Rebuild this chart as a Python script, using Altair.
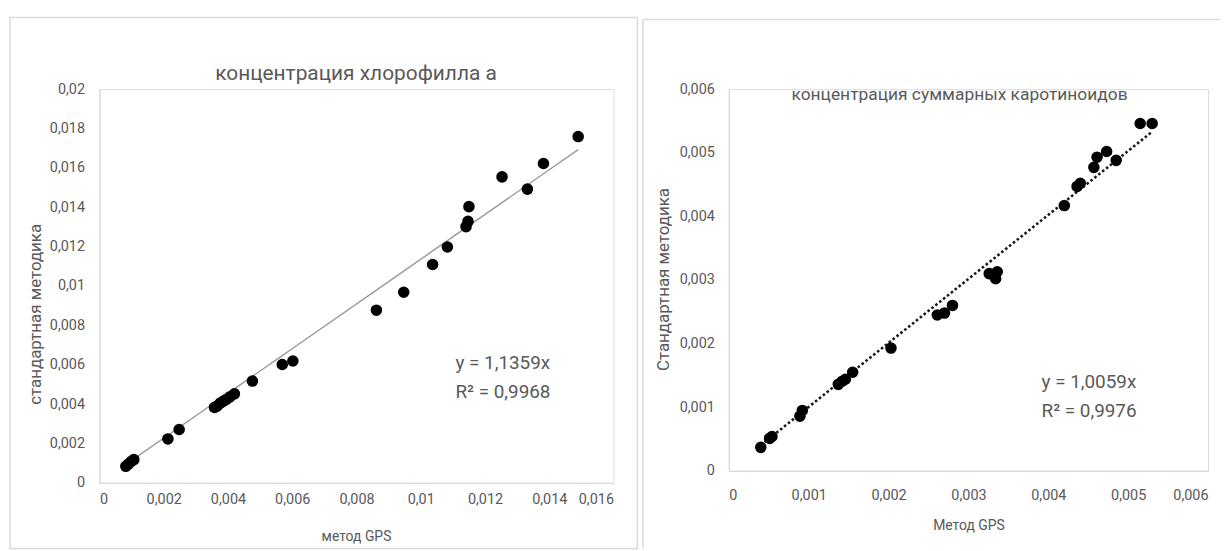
import altair as alt
import pandas as pd

FONT = "Roboto"
TXT = "#595959"
AXC = "#d9d9d9"

# ---------- data: chlorophyll a ----------
chl_gps = [0.00082, 0.00090, 0.00100, 0.00107, 0.00213, 0.00248, 0.00358, 0.00366,
           0.00376, 0.00386, 0.00396, 0.00406, 0.00420, 0.00476, 0.00569, 0.00602,
           0.00862, 0.00947, 0.01037, 0.01083, 0.01141, 0.01147, 0.01150, 0.01253,
           0.01332, 0.01382, 0.01490]
chl_std = [0.00084, 0.00095, 0.00110, 0.00118, 0.00223, 0.00271, 0.00383, 0.00390,
           0.00405, 0.00415, 0.00425, 0.00437, 0.00452, 0.00517, 0.00601, 0.00619,
           0.00877, 0.00968, 0.01109, 0.01198, 0.01301, 0.01328, 0.01403, 0.01554,
           0.01492, 0.01622, 0.01759]
chl_slope = 1.1359
chl_r2 = "0,9968"
chl_xticks = [0, 0.002, 0.004, 0.006, 0.008, 0.01, 0.012, 0.014, 0.016]
chl_yticks = [0, 0.002, 0.004, 0.006, 0.008, 0.01, 0.012, 0.014, 0.016, 0.018, 0.02]

# ---------- data: total carotenoids ----------
car_gps = [0.00040, 0.00051, 0.00054, 0.00089, 0.00092, 0.00137, 0.00142, 0.00146,
           0.00155, 0.00203, 0.00261, 0.00270, 0.00280, 0.00326, 0.00334, 0.00336,
           0.00420, 0.00436, 0.00440, 0.00457, 0.00461, 0.00473, 0.00485, 0.00515,
           0.00530]
car_std = [0.00037, 0.00051, 0.00054, 0.00086, 0.00095, 0.00136, 0.00141, 0.00144,
           0.00155, 0.00193, 0.00245, 0.00248, 0.00260, 0.00310, 0.00302, 0.00313,
           0.00417, 0.00447, 0.00452, 0.00477, 0.00493, 0.00502, 0.00488, 0.00546,
           0.00546]
car_slope = 1.0059
car_r2 = "0,9976"
car_xticks = [0, 0.001, 0.002, 0.003, 0.004, 0.005, 0.006]
car_yticks = [0, 0.001, 0.002, 0.003, 0.004, 0.005, 0.006]

LABEL_EXPR = "replace(format(datum.value, '.3~f'), '.', ',')"


def one(values):
    return pd.DataFrame(values)


def panel(gps, std, slope, r2, xticks, yticks, w, h, title, title_size, title_xy,
          xtitle, xtitle_xy, ytitle, ytitle_xy, xlab_pad, ylab_pad, eq_xy,
          dotted, frame):
    df = pd.DataFrame({"gps": gps, "std": std})
    xs = alt.Scale(domain=[xticks[0], xticks[-1]], nice=False, zero=True)
    ys = alt.Scale(domain=[yticks[0], yticks[-1]], nice=False, zero=True)
    xax = alt.Axis(values=xticks, labelExpr=LABEL_EXPR, grid=False, ticks=False,
                   domainColor=AXC, domainWidth=1.2, labelColor=TXT, labelFont=FONT,
                   labelFontSize=14.5, labelPadding=xlab_pad, title=xtitle,
                   titleFont=FONT, titleFontSize=14, titleFontWeight="normal",
                   titleColor=TXT, titleX=xtitle_xy[0], titleY=xtitle_xy[1],
                   titleAlign="center", titleBaseline="middle", labelOverlap=False)
    yax = alt.Axis(values=yticks, labelExpr=LABEL_EXPR, grid=False, ticks=False,
                   domainColor=AXC, domainWidth=1.2, labelColor=TXT, labelFont=FONT,
                   labelFontSize=14.5, labelPadding=ylab_pad, title=ytitle,
                   titleFont=FONT, titleFontSize=17, titleFontWeight="normal",
                   titleColor=TXT, titleX=ytitle_xy[0], titleY=ytitle_xy[1],
                   titleAlign="center", titleBaseline="middle", titleAngle=270,
                   labelOverlap=False)

    base = alt.Chart(df)
    line_kw = dict(color="#9a9a9a", strokeWidth=1.4)
    if dotted:
        line_kw = dict(color="#1a1a1a", strokeWidth=2.6, strokeDash=[2.6, 2.4])
    trend = base.transform_calculate(fit=f"{slope} * datum.gps").mark_line(**line_kw).encode(
        x=alt.X("gps:Q", scale=xs, axis=xax),
        y=alt.Y("fit:Q", scale=ys, axis=yax),
        order="gps:Q",
    )
    pts = base.mark_circle(size=135, color="black", opacity=1).encode(
        x=alt.X("gps:Q", scale=xs, axis=xax),
        y=alt.Y("std:Q", scale=ys, axis=yax),
    )
    ttl = alt.Chart(one({"t": [title]})).mark_text(
        font=FONT, fontSize=title_size, color=TXT, align="center", baseline="middle"
    ).encode(text="t:N", x=alt.value(title_xy[0]), y=alt.value(title_xy[1]))
    eq = alt.Chart(one({"t": [f"y = {str(slope).replace('.', ',')}x", f"R² = {r2}"],
                        "k": [0, 1]})).mark_text(
        font=FONT, fontSize=19, color=TXT, align="left", baseline="middle"
    ).encode(text="t:N", x=alt.value(eq_xy[0]),
             y=alt.Y("k:Q", scale=alt.Scale(domain=[0, 1], range=[eq_xy[1], eq_xy[1] + 29]),
                     axis=None))

    layers = [trend, pts, ttl]
    fdf = one({"a": [1]})
    if frame == "rect":
        fr = alt.Chart(fdf).mark_rect(fill=None, stroke=AXC, strokeWidth=1.5).encode(
            x=alt.value(-90), x2=alt.value(541), y=alt.value(-72), y2=alt.value(462))
        layers.append(fr)
    else:
        top = alt.Chart(fdf).mark_rule(color=AXC, strokeWidth=1.5).encode(
            x=alt.value(-86.5), x2=alt.value(494), y=alt.value(-70))
        left = alt.Chart(fdf).mark_rule(color=AXC, strokeWidth=1.5).encode(
            x=alt.value(-86.5), y=alt.value(-70), y2=alt.value(462))
        layers += [top, left]
    ch = alt.layer(*layers).properties(width=w, height=h)
    ch = alt.layer(ch, eq).resolve_scale(y="independent")
    return ch


left = panel(chl_gps, chl_std, chl_slope, chl_r2, chl_xticks, chl_yticks, 517, 396,
             "концентрация хлорофилла а", 21, (258, -15),
             "метод GPS", (258, 54), "стандартная методика", (-64, 226),
             10, 15, (358, 276), False, "rect")

right = panel(car_gps, car_std, car_slope, car_r2, car_xticks, car_yticks, 482, 384,
              "концентрация суммарных каротиноидов", 17.5, (232, 6),
              "Метод GPS", (241, 55), "Стандартная методика", (-65.5, 191),
              18, 14.5, (314.5, 295), True, "rules")

chart = alt.hconcat(left, right, spacing=2).properties(
    padding={"top": 6, "left": 0, "right": 0, "bottom": 0}
).configure_view(stroke=None).configure(background="white")

chart.save("out.html", embed_options={"renderer": "svg", "actions": False})
